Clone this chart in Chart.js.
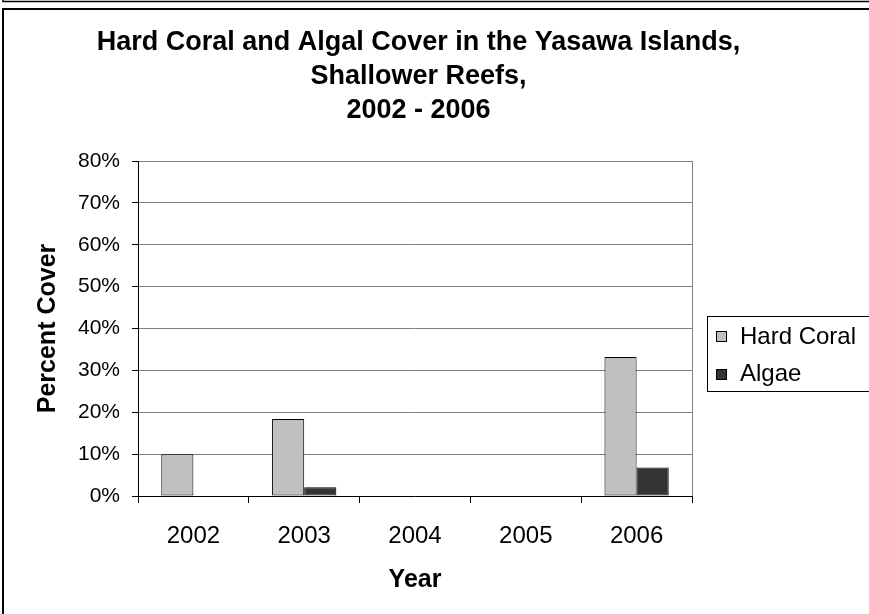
<!DOCTYPE html>
<html>
<head>
<meta charset="utf-8">
<script src="https://cdn.jsdelivr.net/npm/chart.js@4.4.0/dist/chart.umd.min.js"></script>
<style>
  html, body { margin: 0; padding: 0; background: #fff; }
  #wrap { width: 869px; height: 614px; }
</style>
</head>
<body>
<div id="wrap"><canvas id="c" width="869" height="614"></canvas></div>
<script>
const years = ['2002', '2003', '2004', '2005', '2006'];
const hardCoral = [10.0, 18.4, null, null, 33.2];
const algae = [null, 2.1, null, null, 6.8];
const seriesNames = ['Hard Coral', 'Algae'];
const titleLines = ['Hard Coral and Algal Cover in the Yasawa Islands,', 'Shallower Reefs,', '2002 - 2006'];
const yAxisTitle = 'Percent Cover';
const xAxisTitle = 'Year';

const FONT = "'Liberation Sans', Arial, sans-serif";

const framePlugin = {
  id: 'frame',
  beforeDraw(chart) {
    const ctx = chart.ctx;
    ctx.save();
    ctx.fillStyle = '#fff';
    ctx.fillRect(0, 0, chart.width, chart.height);
    ctx.strokeStyle = '#000';
    ctx.lineWidth = 1.5;
    ctx.beginPath();
    ctx.moveTo(3, 0); ctx.lineTo(3, 1.5); ctx.lineTo(chart.width, 1.5);
    ctx.stroke();
    ctx.lineWidth = 2;
    ctx.strokeRect(3, 9, chart.width + 20, chart.height + 20);
    ctx.restore();
  },
  afterDatasetsDraw(chart) {
    const a = chart.chartArea;
    const ctx = chart.ctx;
    ctx.save();
    ctx.strokeStyle = '#808080';
    ctx.lineWidth = 1;
    ctx.beginPath();
    ctx.moveTo(Math.round(a.right) + 0.5, a.top);
    ctx.lineTo(Math.round(a.right) + 0.5, a.bottom);
    ctx.stroke();
    ctx.restore();
  },
  afterDraw(chart) {
    const ctx = chart.ctx;
    ctx.save();
    // title
    ctx.fillStyle = '#000';
    ctx.font = 'bold 27px ' + FONT;
    ctx.textAlign = 'center';
    ctx.textBaseline = 'middle';
    const ty = [43, 77, 110.5];
    titleLines.forEach((t, i) => ctx.fillText(t, 418.5, ty[i]));
    // legend box
    ctx.strokeStyle = '#000';
    ctx.lineWidth = 1;
    ctx.strokeRect(707.5, 316.5, 200, 75);
    const rows = [336, 373.5];
    ctx.font = '24px ' + FONT;
    ctx.textBaseline = 'middle';
    ctx.textAlign = 'left';
    chart.data.datasets.forEach((ds, i) => {
      const y = rows[i];
      ctx.fillStyle = ds.backgroundColor;
      ctx.fillRect(716, Math.round(y - 5), 10, 10);
      ctx.strokeStyle = '#000';
      ctx.strokeRect(716.5, Math.round(y - 5) + 0.5, 10, 10);
      ctx.fillStyle = '#000';
      ctx.fillText(ds.label, 740, y + 1);
    });
    ctx.restore();
  }
};

new Chart(document.getElementById('c'), {
  type: 'bar',
  data: {
    labels: years,
    datasets: [
      { label: seriesNames[0], data: hardCoral, backgroundColor: '#c0c0c0', borderColor: '#000', borderWidth: 1, borderSkipped: false },
      { label: seriesNames[1], data: algae, backgroundColor: '#333333', borderColor: '#000', borderWidth: 1, borderSkipped: false }
    ]
  },
  options: {
    responsive: false,
    animation: false,
    devicePixelRatio: 1,
    layout: { padding: { top: 161, left: 0, right: 177, bottom: 0 } },
    datasets: { bar: { categoryPercentage: 0.58, barPercentage: 1.0 } },
    plugins: {
      legend: { display: false },
      tooltip: { enabled: false },
      title: { display: false }
    },
    scales: {
      x: {
        grid: { display: true, drawOnChartArea: false, drawTicks: true, tickLength: 7, color: '#000', offset: true },
        border: { color: '#000', width: 1 },
        ticks: { color: '#000', font: { family: FONT, size: 24 }, padding: 19, maxRotation: 0 },
        title: { display: true, text: xAxisTitle, color: '#000', font: { family: FONT, size: 25, weight: 'bold', lineHeight: 1.2 }, padding: { top: 0, bottom: 19 } },
        afterFit(s) { s.height = 118; }
      },
      y: {
        min: 0, max: 80,
        grid: { color: '#808080', tickColor: '#000', tickLength: 6, lineWidth: 1 },
        border: { color: '#000', width: 1 },
        ticks: { stepSize: 10, color: '#000', font: { family: FONT, size: 21 }, padding: 12, callback: v => v + '%' },
        title: { display: true, text: yAxisTitle, color: '#000', font: { family: FONT, size: 25, weight: 'bold', lineHeight: 1.2 }, padding: { top: 33, bottom: 0 } },
        afterFit(s) { s.width = 138; }
      }
    }
  },
  plugins: [framePlugin]
});
</script>
</body>
</html>
